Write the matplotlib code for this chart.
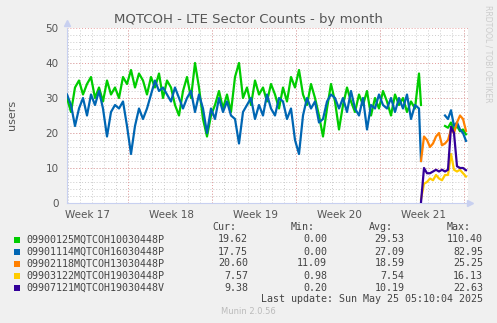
import numpy as np
import matplotlib
matplotlib.use("Agg")
import matplotlib.pyplot as plt
from matplotlib.patches import Rectangle

# ---------------- data ----------------
title = "MQTCOH - LTE Sector Counts - by month"
week_labels = ["Week 17", "Week 18", "Week 19", "Week 20", "Week 21"]
week_label_days = [1.67, 8.67, 15.67, 22.67, 29.67]
week_start_days = [5.06, 12.06, 19.06, 26.06, 33.06]

names = ["09900125MQTCOH10030448P", "09901114MQTCOH16030448P",
         "09902118MQTCOH13030448P", "09903122MQTCOH19030448P",
         "09907121MQTCOH19030448V"]
colors = ["#00CC00", "#0066B3", "#FF8000", "#FFCC00", "#330099"]
cur = ["19.62", "17.75", "20.60", "7.57", "9.38"]
mins = ["0.00", "0.00", "11.09", "0.98", "0.20"]
avgs = ["29.53", "27.09", "18.59", "7.54", "10.19"]
maxs = ["110.40", "82.95", "25.25", "16.13", "22.63"]

# first segment (green / blue), one sample every 1/3 day from day 0
green_a = [30, 26, 33, 35, 31, 34, 36, 30, 33, 29, 35, 31, 33, 30, 36, 34, 38, 33,
           37, 35, 31, 36, 33, 37, 30, 35, 33, 28, 25, 32, 36, 30, 40, 33, 24, 19,
           25, 28, 32, 27, 31, 26, 36, 40, 30, 33, 28, 35, 31, 33, 29, 34, 31, 27,
           33, 29, 36, 33, 38, 31, 28, 34, 30, 25, 19, 27, 34, 29, 21, 28, 33, 29,
           26, 31, 28, 32, 25, 30, 27, 32, 29, 25, 31, 28, 30, 26, 29, 27, 37, 28]
blue_a = [31, 28, 22, 27, 30, 25, 31, 28, 32, 27, 19, 26, 28, 27, 29, 22, 14, 22,
          27, 24, 27, 31, 35, 32, 33, 31, 29, 33, 30, 27, 30, 32, 26, 31, 27, 20,
          27, 24, 30, 26, 29, 25, 24, 17, 26, 28, 30, 24, 28, 25, 31, 27, 25, 30,
          29, 24, 27, 18, 14, 25, 30, 27, 29, 23, 24, 29, 31, 30, 27, 30, 26, 32,
          27, 25, 30, 21, 28, 27, 31, 28, 27, 30, 26, 30, 27, 31, 24, 28, 27, 12]

# late segment: one sample every 1/4 day starting at day 29.5
orange_b = [12, 19, 18, 16, 17, 19, 20, 16.5, 17, 18, 21, 20, 23, 25, 24, 20.6]
yellow_b = [1, 5.5, 6, 7, 6.5, 8, 7, 6.5, 8, 8, 14, 9.5, 9, 9.5, 8.5, 7.57]
purple_b = [0.2, 10, 8.5, 8.5, 9, 9.5, 9, 9.5, 9, 9.5, 21.8, 20, 10.5, 10, 10, 9.38]
green_b = [22, 21.5, 23, 21, 22, 20.5, 21, 19.62]
blue_b = [25, 24, 26.5, 22, 23, 21, 20, 17.75]

# ---------------- figure ----------------
W, H = 497, 323
fig = plt.figure(figsize=(W / 100, H / 100), dpi=100, facecolor="#F0F0F0")
L, R, T, B = 67, 468, 28, 203
ax = fig.add_axes([L / W, (H - B) / H, (R - L) / W, (B - T) / H])
ax.set_facecolor("white")
xmax = (R - L) / 12.0
ax.set_xlim(0, xmax)
ax.set_ylim(0, 50)

# grid
for d in np.arange(week_start_days[0] - 5, xmax, 1.0):
    ax.axvline(d, color="#cccccc", lw=0.7, ls=(0, (1, 2)), zorder=0)
for d in week_start_days:
    ax.axvline(d, color="#e8a0a0", lw=0.7, ls=(0, (1, 2)), zorder=0.5)
for v in np.arange(2, 50, 2):
    ax.axhline(v, color="#cccccc", lw=0.7, ls=(0, (1, 2)), zorder=0)
for v in [10, 20, 30, 40, 50]:
    ax.axhline(v, color="#e8a0a0", lw=0.7, ls=(0, (1, 2)), zorder=0.5)

# series
t_a = np.arange(len(green_a)) / 3.0
t_a[-1] = 29.5
t_b = 29.5 + np.arange(len(orange_b)) * 0.25
t_gb = t_b[-len(green_b):]

lw = 1.6
ax.plot(t_a, green_a, color=colors[0], lw=lw, zorder=3)
ax.plot(t_a, blue_a, color=colors[1], lw=lw, zorder=4)
ax.plot(t_b, orange_b, color=colors[2], lw=lw, zorder=5)
ax.plot(t_b, yellow_b, color=colors[3], lw=lw, zorder=5)
ax.plot(t_b, purple_b, color=colors[4], lw=lw, zorder=6)
ax.plot(t_gb, green_b, color=colors[0], lw=lw, zorder=3)
ax.plot(t_gb, blue_b, color=colors[1], lw=lw, zorder=4)

# axes styling
for s in ["top", "right"]:
    ax.spines[s].set_visible(False)
ax.spines["left"].set_color("#c8d0f0")
ax.spines["bottom"].set_color("#c8d0f0")
ax.plot([0], [51.3], marker="^", color="#c8d0f0", ms=4, clip_on=False, transform=ax.transData)
ax.plot([xmax + 0.2], [0], marker=">", color="#c8d0f0", ms=4, clip_on=False)

ax.set_yticks([0, 10, 20, 30, 40, 50])
ax.set_xticks(week_label_days)
ax.set_xticklabels(week_labels)
ax.tick_params(length=0, colors="#555555", labelsize=7.5, pad=5)
ax.tick_params(axis="y", pad=6)

fig.text(248 / W, 1 - 19 / H, title, ha="center", va="center", fontsize=9.5, color="#555555")
fig.text(12 / W, 1 - 115 / H, "users", rotation=90, ha="center", va="center", fontsize=8, color="#555555")
fig.text(488 / W, 1 - 5 / H, "RRDTOOL / TOBI OETIKER", rotation=270, ha="center", va="top",
         fontsize=5.5, color="#cccccc")

# legend
mono = dict(family="DejaVu Sans Mono", fontsize=7.2, color="#444444", va="center")
fig.text(224 / W, 1 - 227 / H, "Cur:", ha="center", **mono)
fig.text(302.5 / W, 1 - 227 / H, "Min:", ha="center", **mono)
fig.text(381 / W, 1 - 227 / H, "Avg:", ha="center", **mono)
fig.text(458.5 / W, 1 - 227 / H, "Max:", ha="center", **mono)
rows = [239.5, 251.7, 263.5, 275.7, 287.7]
for i, y in enumerate(rows):
    fig.patches.append(Rectangle((14 / W, 1 - (y + 3) / H), 6 / W, 6 / H,
                                 transform=fig.transFigure, facecolor=colors[i], edgecolor="none"))
    fig.text(26 / W, 1 - y / H, names[i], ha="left", **mono)
    fig.text(248 / W, 1 - y / H, cur[i], ha="right", **mono)
    fig.text(327 / W, 1 - y / H, mins[i], ha="right", **mono)
    fig.text(404.5 / W, 1 - y / H, avgs[i], ha="right", **mono)
    fig.text(483 / W, 1 - y / H, maxs[i], ha="right", **mono)
fig.text(483 / W, 1 - 299.5 / H, "Last update: Sun May 25 05:10:04 2025", ha="right", **mono)
fig.text(248 / W, 1 - 311.5 / H, "Munin 2.0.56", ha="center", va="center", fontsize=6, color="#bbbbbb")

fig.savefig("out.png", dpi=100, facecolor=fig.get_facecolor())
